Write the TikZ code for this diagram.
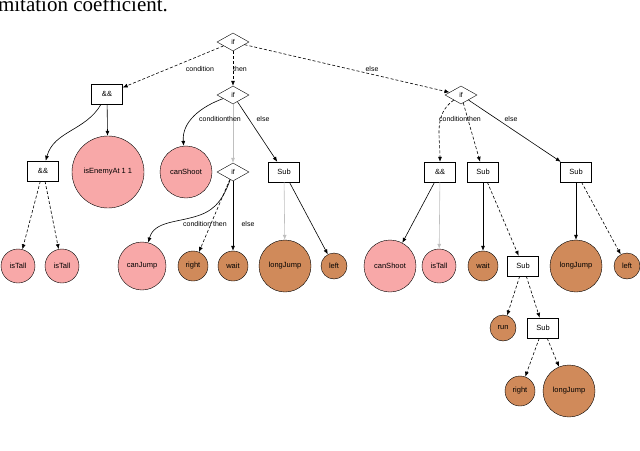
\documentclass[tikz,border=0pt]{standalone}
\usepackage{fontspec}
\setmainfont{Liberation Sans}
\newfontfamily\serifx{Liberation Serif}
\usetikzlibrary{shapes.geometric,arrows.meta}
\definecolor{pk}{HTML}{F8A8A8}
\definecolor{br}{HTML}{D08A5A}
\begin{document}
\begin{tikzpicture}[x=1pt,y=-1pt,
 dia/.style={diamond,draw,minimum width=32pt,minimum height=18pt,inner sep=0pt,font=\fontsize{7}{7}\selectfont,fill=white},
 box/.style={rectangle,draw,minimum width=31pt,minimum height=20pt,inner sep=0pt,font=\fontsize{7.5}{8}\selectfont,fill=white},
 leaf/.style={circle,draw,inner sep=0pt,minimum size=#1,font=\fontsize{7.5}{8}\selectfont},
 pl/.style={leaf=#1,fill=pk},
 bl/.style={leaf=#1,fill=br},
 e/.style={-{Latex[length=5pt,width=4pt]},semithick},
 d/.style={e,densely dashed},
 g/.style={e,gray!50},
 lb/.style={font=\fontsize{7}{7}\selectfont,inner sep=1pt}]
\useasboundingbox (0,0) rectangle (640,450);
\begin{scope}
\clip (0,0) rectangle (640,16);
\node[anchor=base west,inner sep=0pt,font=\serifx\fontsize{21}{21}\selectfont] (cap) at (-8,11) {imitation coefficient.};
\end{scope}
\node[dia] (if0) at (233,42) {if};
\node[box] (a1) at (107,94) {\&\&};
\node[dia] (if1) at (233,95) {if};
\node[dia] (if2) at (461,95) {if};
\node[box] (a2) at (43,171) {\&\&};
\node[pl=72pt] (ise) at (108,172) {isEnemyAt 1 1};
\node[pl=52pt] (cs1) at (186,172) {canShoot};
\node[dia] (if3) at (233,172) {if};
\node[box] (s1) at (284,172) {Sub};
\node[box] (a3) at (440,172) {\&\&};
\node[box] (s2) at (483,172) {Sub};
\node[box] (s3) at (576,172) {Sub};
\node[pl=34pt] (t1) at (18,266) {isTall};
\node[pl=34pt] (t2) at (62,266) {isTall};
\node[pl=48pt] (cj) at (142,266) {canJump};
\node[bl=30pt] (r1) at (193,266) {right};
\node[bl=30pt] (w1) at (233,266) {wait};
\node[bl=52pt] (lj1) at (285,266) {longJump};
\node[bl=26pt] (l1) at (334,266) {left};
\node[pl=52pt] (cs2) at (390,266) {canShoot};
\node[pl=34pt] (t3) at (439,266) {isTall};
\node[bl=30pt] (w2) at (483,266) {wait};
\node[box] (s4) at (523,266) {Sub};
\node[bl=52pt] (lj2) at (576,266) {longJump};
\node[bl=26pt] (l2) at (627,266) {left};
\node[bl=26pt] (run) at (503,328) {run};
\node[box] (s5) at (543,328) {Sub};
\node[bl=30pt] (r2) at (520,391) {right};
\node[bl=52pt] (lj3) at (569,391) {longJump};
\draw[d] (if0) -- (a1);
\draw[d] (if0) -- (if1);
\draw[d] (if0) -- (if2);
\node[lb] (l0a) at (200,69) {condition};
\node[lb] (l0b) at (240,69) {then};
\node[lb] (l0c) at (372,69) {else};
\draw[e] (a1) to[out=240,in=75] (a2);
\draw[e] (a1) -- (ise);
\draw[d] (a2) -- (t1);
\draw[d] (a2) -- (t2);
\draw[e] (if1) to[out=200,in=95] (cs1);
\draw[g] (if1) -- (if3);
\draw[e] (if1) -- (s1);
\node[lb] (l1a) at (220,119) {conditionthen};
\node[lb] (l1b) at (263,119) {else};
\draw[e] (if3) to[out=250,in=20] (200,215) to[out=200,in=75] (cj);
\draw[d] (if3) -- (r1);
\draw[e] (if3) -- (w1);
\node[lb] (l3a) at (205,224) {condition then};
\node[lb] (l3b) at (248,224) {else};
\draw[g] (s1) -- (lj1);
\draw[e] (s1) -- (l1);
\draw[d] (if2) to[out=215,in=90] (a3);
\draw[d] (if2) -- (s2);
\draw[e] (if2) -- (s3);
\node[lb] (l2a) at (460,119) {conditionthen};
\node[lb] (l2b) at (511,119) {else};
\draw[e] (a3) -- (cs2);
\draw[g] (a3) -- (t3);
\draw[e] (s2) -- (w2);
\draw[d] (s2) -- (s4);
\draw[e] (s3) -- (lj2);
\draw[d] (s3) -- (l2);
\draw[d] (s4) -- (run);
\draw[d] (s4) -- (s5);
\draw[d] (s5) -- (r2);
\draw[d] (s5) -- (lj3);
\end{tikzpicture}
\end{document}
